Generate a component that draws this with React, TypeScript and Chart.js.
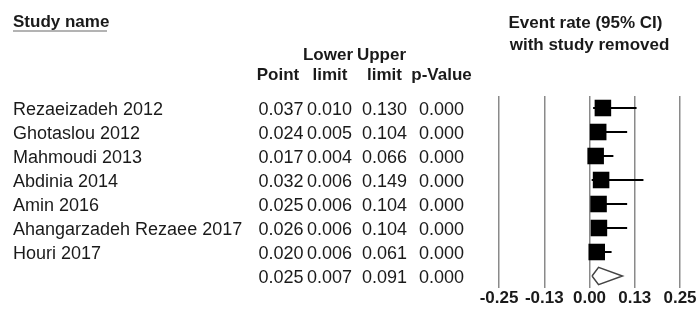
import React, { useEffect, useRef } from "react";
import { Chart, registerables } from "chart.js";

Chart.register(...registerables);

const STUDIES = [
  "Rezaeizadeh 2012",
  "Ghotaslou 2012",
  "Mahmoudi 2013",
  "Abdinia 2014",
  "Amin 2016",
  "Ahangarzadeh Rezaee 2017",
  "Houri 2017",
];
const POINT = [0.037, 0.024, 0.017, 0.032, 0.025, 0.026, 0.02];
const LOWER = [0.01, 0.005, 0.004, 0.006, 0.006, 0.006, 0.006];
const UPPER = [0.13, 0.104, 0.066, 0.149, 0.104, 0.104, 0.061];
const P_VALUE = [0, 0, 0, 0, 0, 0, 0];

const SUMMARY_POINT = 0.025;
const SUMMARY_LOWER = 0.007;
const SUMMARY_UPPER = 0.091;
const SUMMARY_P = 0;

const TICK_VALUES = [-0.25, -0.125, 0, 0.125, 0.25];
const TICK_LABELS = ["-0.25", "-0.13", "0.00", "0.13", "0.25"];

const FONT = '"Liberation Sans", Arial, Helvetica, sans-serif';
const TEXT_COLOR = "#1a1a1a";
const DIAMOND_HALF = 0.36;

const tablePlugin = {
  id: "forestTable",
  afterDraw(chart: any) {
    const ctx = chart.ctx as CanvasRenderingContext2D;
    const y = chart.scales.y;
    ctx.save();
    ctx.fillStyle = TEXT_COLOR;
    ctx.textBaseline = "alphabetic";

    // Headers
    ctx.font = `bold 17px ${FONT}`;
    ctx.textAlign = "left";
    ctx.fillText("Study name", 13, 27);
    ctx.strokeStyle = "#9a9a9a";
    ctx.lineWidth = 1.5;
    ctx.beginPath();
    ctx.moveTo(13, 31);
    ctx.lineTo(107, 31);
    ctx.stroke();

    ctx.textAlign = "center";
    ctx.fillText("Lower", 328, 60);
    ctx.fillText("Upper", 381.5, 60);
    ctx.fillText("Point", 278, 80);
    ctx.fillText("limit", 330, 80);
    ctx.fillText("limit", 384.5, 80);
    ctx.fillText("p-Value", 441.5, 80);
    ctx.fillText("Event rate (95% CI)", 585.5, 28);
    ctx.fillText("with study removed", 589.5, 50);

    // Rows
    const cols = [281, 329.5, 384.5, 441.5];
    ctx.font = `18px ${FONT}`;
    const drawRow = (i: number, name: string, vals: number[]) => {
      const base = y.getPixelForValue(i) + 6.5;
      if (name) {
        ctx.textAlign = "left";
        ctx.fillText(name, 13, base);
      }
      ctx.textAlign = "center";
      vals.forEach((v, k) => ctx.fillText(v.toFixed(3), cols[k], base));
    };
    STUDIES.forEach((s, i) =>
      drawRow(i, s, [POINT[i], LOWER[i], UPPER[i], P_VALUE[i]])
    );
    drawRow(STUDIES.length, "", [SUMMARY_POINT, SUMMARY_LOWER, SUMMARY_UPPER, SUMMARY_P]);
    ctx.restore();
  },
};

export default function App() {
  const ref = useRef<HTMLCanvasElement>(null);

  useEffect(() => {
    if (!ref.current) return;
    const n = STUDIES.length;
    const whiskers = STUDIES.map((s, i) => ({
      type: "line" as const,
      label: s,
      data: [
        { x: LOWER[i], y: i },
        { x: UPPER[i], y: i },
      ],
      borderColor: "#000",
      borderWidth: 2,
      pointRadius: 0,
      fill: false,
      order: 2,
    }));
    const squares = {
      type: "scatter" as const,
      label: "points",
      data: POINT.map((p, i) => ({ x: p, y: i })),
      pointStyle: "rect",
      pointRadius: 11.7,
      backgroundColor: "#000",
      borderColor: "#000",
      borderWidth: 0,
      order: 1,
    };
    const diamond = {
      type: "line" as const,
      label: "summary",
      data: [
        { x: SUMMARY_LOWER, y: n },
        { x: SUMMARY_POINT, y: n - DIAMOND_HALF },
        { x: SUMMARY_UPPER, y: n },
        { x: SUMMARY_POINT, y: n + DIAMOND_HALF },
        { x: SUMMARY_LOWER, y: n },
      ],
      borderColor: "#444",
      borderWidth: 1.5,
      pointRadius: 0,
      tension: 0,
      fill: false,
      order: 0,
    };

    const chart = new Chart(ref.current, {
      type: "scatter",
      data: { datasets: [...whiskers, squares, diamond] as any },
      plugins: [tablePlugin],
      options: {
        responsive: false,
        animation: false,
        devicePixelRatio: 1,
        layout: { padding: { left: 499, right: 16, top: 96, bottom: 0 } },
        plugins: {
          legend: { display: false },
          tooltip: { enabled: false },
        },
        scales: {
          x: {
            type: "linear",
            min: -0.25,
            max: 0.25,
            afterBuildTicks: (scale: any) => {
              scale.ticks = TICK_VALUES.map((v) => ({ value: v }));
            },
            afterFit: (scale: any) => {
              scale.height = 25;
              scale.paddingLeft = 0;
              scale.paddingRight = 0;
            },
            ticks: {
              autoSkip: false,
              maxRotation: 0,
              padding: 0,
              color: TEXT_COLOR,
              font: { family: FONT, size: 17, weight: "bold" },
              callback: (_v: any, i: number) => TICK_LABELS[i],
            },
            grid: {
              color: "#8a8a8a",
              lineWidth: 1.5,
              drawTicks: false,
            },
            border: { display: false },
          },
          y: {
            type: "linear",
            min: -0.5,
            max: n + 0.5,
            reverse: true,
            display: false,
          },
        },
      } as any,
    });
    return () => chart.destroy();
  }, []);

  return (
    <div style={{ position: "fixed", left: 0, top: 0, width: 696, height: 313, background: "#fff" }}>
      <canvas ref={ref} width={696} height={313} style={{ display: "block" }} />
    </div>
  );
}
